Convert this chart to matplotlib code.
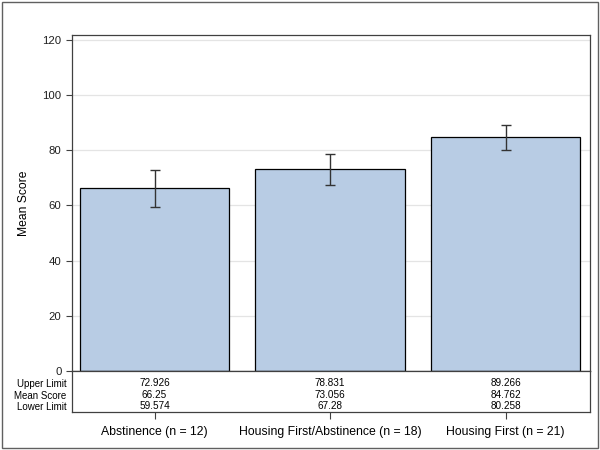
import numpy as np
import matplotlib
matplotlib.use("Agg")
import matplotlib.pyplot as plt
from matplotlib.patches import Rectangle

plt.rcParams['font.family'] = ['Liberation Sans', 'DejaVu Sans']

groups = ["Abstinence (n = 12)", "Housing First/Abstinence (n = 18)", "Housing First (n = 21)"]
mean_score = [66.25, 73.056, 84.762]
upper = [72.926, 78.831, 89.266]
lower = [59.574, 67.28, 80.258]
upper_txt = ["72.926", "78.831", "89.266"]
mean_txt = ["66.25", "73.056", "84.762"]
lower_txt = ["59.574", "67.28", "80.258"]
row_names = ["Upper Limit", "Mean Score", "Lower Limit"]
yticks = [0, 20, 40, 60, 80, 100, 120]

fig = plt.figure(figsize=(6, 4.5), dpi=100)
fig.patches.append(Rectangle((0.004, 0.004), 0.992, 0.992, transform=fig.transFigure,
                             fill=False, edgecolor="#606060", lw=1))

x = np.arange(len(groups))
m = np.array(mean_score)
err = [m - np.array(lower), np.array(upper) - m]
xlim = (-0.47, 2.48)

ax = fig.add_axes([0.12, 1 - 371 / 450, 518 / 600, 336 / 450])
ax.bar(x, mean_score, width=0.85, color="#B8CCE4", edgecolor="black", linewidth=0.9, zorder=2)
ax.errorbar(x, mean_score, yerr=err, fmt="none", ecolor="#333333", elinewidth=1,
            capsize=3.6, capthick=1, zorder=3)
ax.set_xlim(*xlim)
ax.set_ylim(0, 121.8)
ax.set_yticks(yticks)
ax.yaxis.grid(True, color="#E4E4E4", lw=0.9, zorder=0)
ax.set_axisbelow(True)
ax.set_xticks([])
ax.tick_params(axis="y", labelsize=8.2, length=4, color="#404040", labelcolor="#202020")
ax.set_ylabel("Mean Score", fontsize=8.7, labelpad=9)
for s in ax.spines.values():
    s.set_color("#404040")
    s.set_linewidth(0.9)

# statistics table under the bars, in pixel rows (0 = top of table)
tb = fig.add_axes([0.12, 1 - 412 / 450, 518 / 600, 41 / 450])
tb.set_xlim(*xlim)
tb.set_ylim(41, 0)
rows_y = [12, 24, 35]
tb.set_yticks(rows_y)
tb.set_yticklabels(row_names, fontsize=7)
tb.tick_params(axis="y", length=0, pad=4)
tb.set_xticks(x)
tb.set_xticklabels(groups, fontsize=8.8)
tb.tick_params(axis="x", length=5, color="#404040", pad=5)
for s in tb.spines.values():
    s.set_color("#404040")
    s.set_linewidth(0.9)
for i in range(len(groups)):
    tb.text(x[i], rows_y[0], upper_txt[i], ha="center", va="center", fontsize=7.2)
    tb.text(x[i], rows_y[1], mean_txt[i], ha="center", va="center", fontsize=7.2)
    tb.text(x[i], rows_y[2], lower_txt[i], ha="center", va="center", fontsize=7.2)

fig.savefig("out.png", dpi=100)
